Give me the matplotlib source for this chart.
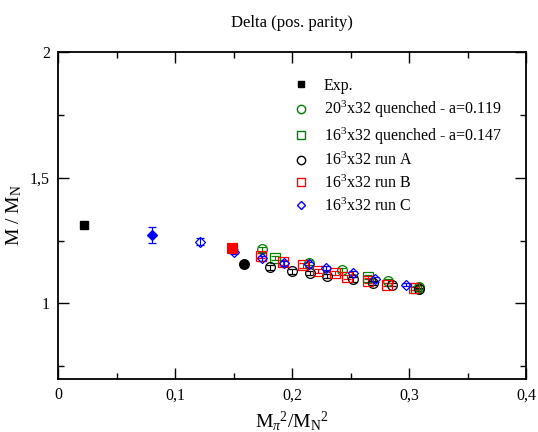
import matplotlib
matplotlib.use('Agg')
import matplotlib.pyplot as plt
from matplotlib.lines import Line2D
from matplotlib.ticker import MultipleLocator, FuncFormatter

plt.rcParams['font.family'] = 'Liberation Serif'
plt.rcParams['mathtext.fontset'] = 'custom'
plt.rcParams['mathtext.rm'] = 'Liberation Serif'
plt.rcParams['mathtext.it'] = 'Liberation Serif:italic'

# experimental value
exp_x = [0.022]
exp_y = [1.313]

# 20^3x32 quenched, a=0.119
q20_x = [0.174, 0.214, 0.243, 0.282, 0.308]
q20_y = [1.216, 1.162, 1.131, 1.088, 1.066]
q20_e = [0.010, 0.009, 0.008, 0.008, 0.007]

# 16^3x32 quenched, a=0.147
q16_x = [0.185, 0.265, 0.306]
q16_y = [1.180, 1.104, 1.062]
q16_e = [0.009, 0.008, 0.007]

# run A
a_x = [0.159, 0.181, 0.200, 0.215, 0.230, 0.252, 0.269, 0.285, 0.308]
a_y = [1.155, 1.143, 1.127, 1.120, 1.110, 1.095, 1.083, 1.075, 1.056]
a_e = [0.010, 0.010, 0.009, 0.009, 0.008, 0.008, 0.008, 0.007, 0.007]

# run B
b_x = [0.149, 0.173, 0.192, 0.209, 0.222, 0.237, 0.247, 0.265, 0.281, 0.304]
b_y = [1.222, 1.190, 1.163, 1.151, 1.130, 1.119, 1.103, 1.091, 1.075, 1.060]
b_e = [0.010, 0.010, 0.009, 0.009, 0.008, 0.008, 0.008, 0.008, 0.007, 0.007]

# run C
c_x = [0.080, 0.121, 0.150, 0.174, 0.193, 0.214, 0.229, 0.252, 0.271, 0.297]
c_y = [1.272, 1.246, 1.206, 1.179, 1.159, 1.155, 1.139, 1.119, 1.095, 1.075]
c_e = [0.030, 0.015, 0.010, 0.010, 0.009, 0.009, 0.008, 0.008, 0.008, 0.007]

labels = ['Exp.', '20$^3$x32 quenched - a=0.119', '16$^3$x32 quenched - a=0.147',
          '16$^3$x32 run A', '16$^3$x32 run B', '16$^3$x32 run C']

fig = plt.figure(figsize=(5.38, 4.32), dpi=100)
ax = fig.add_axes([0.108, 0.123, 0.870, 0.757])

eb = dict(ls='none', elinewidth=0.8, capsize=3, capthick=0.8, markeredgewidth=0.9)

ax.plot(exp_x, exp_y, 's', color='black', ms=6)
ax.errorbar(q20_x, q20_y, yerr=q20_e, fmt='o', color='green', mfc='none', ms=7, **eb)
ax.errorbar(q16_x, q16_y, yerr=q16_e, fmt='s', color='green', mfc='none', ms=6.5, **eb)
ax.errorbar(a_x[1:], a_y[1:], yerr=a_e[1:], fmt='o', color='black', mfc='none', ms=7, **eb)
ax.errorbar(b_x[1:], b_y[1:], yerr=b_e[1:], fmt='s', color='red', mfc='none', ms=6.5, **eb)
ax.errorbar(c_x[1:], c_y[1:], yerr=c_e[1:], fmt='D', color='blue', mfc='none', ms=5.5, **eb)

# lightest points drawn filled
ax.errorbar(a_x[:1], a_y[:1], yerr=a_e[:1], fmt='o', color='black', ms=7, **eb)
ax.errorbar(b_x[:1], b_y[:1], yerr=b_e[:1], fmt='s', color='red', ms=6.5, **eb)
ax.errorbar(c_x[:1], c_y[:1], yerr=c_e[:1], fmt='D', color='blue', ms=5.5, **eb)

handles = [
    Line2D([], [], ls='none', marker='s', color='black', ms=5),
    Line2D([], [], ls='none', marker='o', color='green', mfc='none', ms=6),
    Line2D([], [], ls='none', marker='s', color='green', mfc='none', ms=5.5),
    Line2D([], [], ls='none', marker='o', color='black', mfc='none', ms=6),
    Line2D([], [], ls='none', marker='s', color='red', mfc='none', ms=5.5),
    Line2D([], [], ls='none', marker='D', color='blue', mfc='none', ms=4.5),
]

ax.set_xlim(0, 0.4)
ax.set_ylim(0.7, 2.0)
ax.xaxis.set_major_locator(MultipleLocator(0.1))
ax.xaxis.set_minor_locator(MultipleLocator(0.05))
ax.yaxis.set_major_locator(MultipleLocator(0.5))
ax.yaxis.set_minor_locator(MultipleLocator(0.25))
comma = FuncFormatter(lambda v, p: ('%g' % round(v, 3)).replace('.', ','))
ax.xaxis.set_major_formatter(comma)
ax.yaxis.set_major_formatter(comma)
ax.tick_params(which='both', direction='in', top=True, right=True, labelsize=11.5, width=1)
ax.tick_params(which='major', length=8, pad=6)
ax.tick_params(which='minor', length=4)
for s in ax.spines.values():
    s.set_linewidth(1.3)

ax.set_xlabel(r'M$_\pi$$^2$/M$_\mathrm{N}$$^2$', fontsize=14)
ax.set_ylabel(r'M / M$_\mathrm{N}$', fontsize=14)
ax.set_title('Delta (pos. parity)', fontsize=12, pad=18)

ax.legend(handles, labels, loc='upper left', bbox_to_anchor=(0.472, 0.965), frameon=False,
          fontsize=11.5, handlelength=1.0, handletextpad=0.9, labelspacing=0.33)

plt.savefig('out.png', dpi=100)
